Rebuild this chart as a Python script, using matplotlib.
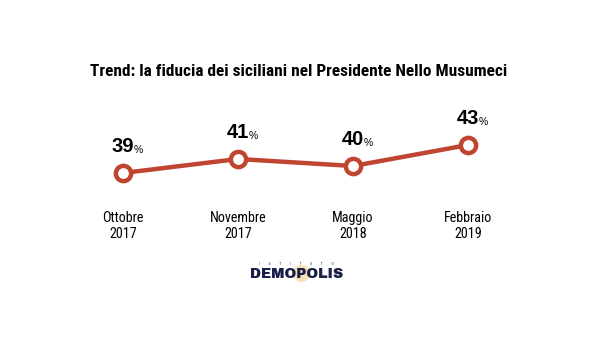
import matplotlib
matplotlib.use("Agg")
import matplotlib.pyplot as plt
from matplotlib import font_manager

periods = ["Ottobre\n2017", "Novembre\n2017", "Maggio\n2018", "Febbraio\n2019"]
fiducia = [39, 41, 40, 43]

# pick a condensed family that is installed, bold weight included
fonts = font_manager.fontManager.ttflist
def pick(cands, weight, fallback="Liberation Sans"):
    for c in cands:
        if any(f.name == c and f.weight == weight for f in fonts):
            return c
    return fallback

cands = ["Roboto Condensed", "Archivo Narrow", "Barlow Condensed",
         "Saira SemiCondensed"]
bold_fam = pick(cands, 700)
reg_fam = pick(cands, 400)
logo_fam = pick(["Archivo Black"], 400, "DejaVu Sans")
plt.rcParams["font.family"] = [reg_fam, "DejaVu Sans"]

red = "#bf4530"
navy = "#1a1f4a"

fig = plt.figure(figsize=(6, 3.38), dpi=100)
ax = fig.add_axes([0, 0, 1, 1])
ax.set_xlim(-1.07, 4.147)
ax.set_ylim(15.43, 63.71)
ax.axis("off")

x = list(range(len(fiducia)))
ax.plot(x, fiducia, color=red, lw=3.2, marker="o", ms=11,
        mfc="white", mec=red, mew=3.2, zorder=3)

for i, v in enumerate(fiducia):
    ax.annotate(str(v), (i, v), xytext=(8, 19), textcoords="offset points",
                ha="right", va="center", fontsize=14.5, fontweight="bold",
                family=["Liberation Sans", "DejaVu Sans"], color="black")
    ax.annotate("%", (i, v), xytext=(7.5, 16.5), textcoords="offset points",
                ha="left", va="center", fontsize=7.5,
                family=["Liberation Sans", "DejaVu Sans"], color="black")

for i, lab in enumerate(periods):
    fig.text((i + 1.07) / 5.217, 1 - 226 / 338, lab, ha="center", va="center",
             fontsize=10.2, linespacing=1.15)

fig.text(0.497, 1 - 71 / 338,
         "Trend: la fiducia dei siciliani nel Presidente Nello Musumeci",
         ha="center", va="center", fontsize=12.4, fontweight="bold",
         family=[bold_fam, "DejaVu Sans"])

# logo
fig.text(0.494, 1 - 264 / 338, "I          S          T          I          T          U          T          O",
         ha="center", va="center", fontsize=2.6, color=navy)
ax.scatter([(301 / 600) * 5.217 - 1.07], [63.71 - 273 / 338 * 48.28],
           s=150, color="#f2b84e", alpha=0.4, lw=0, zorder=1)
fig.text(0.494, 1 - 273.5 / 338, "DEMOPOLIS", ha="center", va="center",
         fontsize=10.2, color=navy, family=[logo_fam, "DejaVu Sans"])

fig.savefig("out.png", dpi=100, facecolor="white")
